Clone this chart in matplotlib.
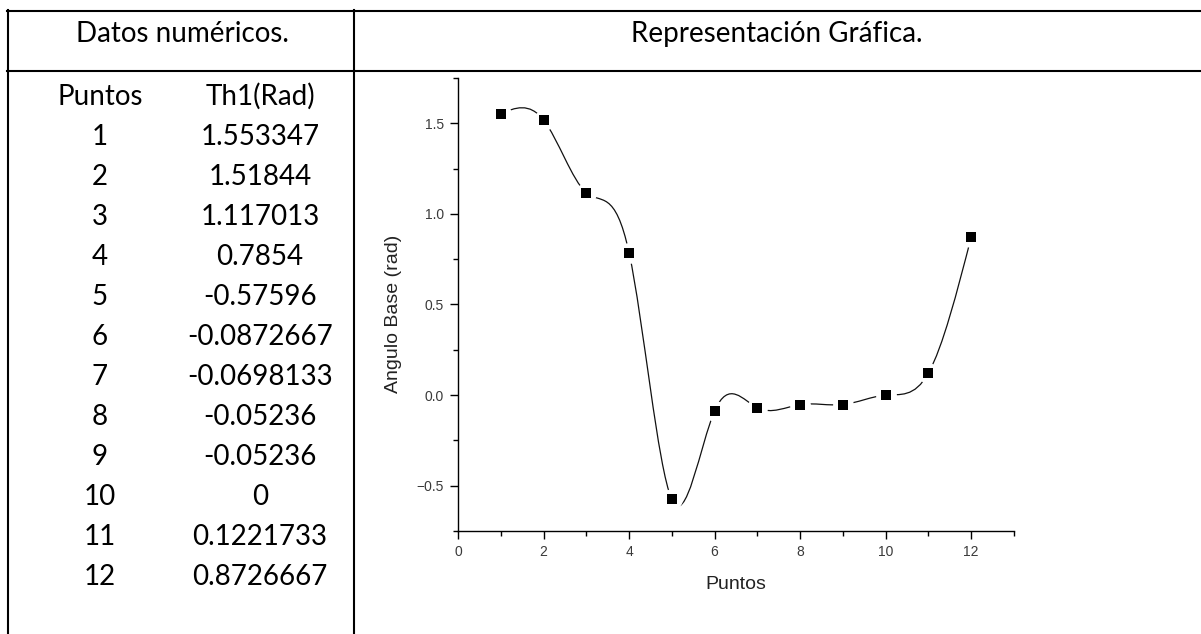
import numpy as np
import matplotlib
matplotlib.use("Agg")
from matplotlib import pyplot as plt
from matplotlib.path import Path
from matplotlib.patches import PathPatch
from matplotlib.lines import Line2D
from matplotlib.ticker import MultipleLocator

# data
puntos = [1, 2, 3, 4, 5, 6, 7, 8, 9, 10, 11, 12]
th1 = [1.553347, 1.51844, 1.117013, 0.7854, -0.57596, -0.0872667,
       -0.0698133, -0.05236, -0.05236, 0.0, 0.1221733, 0.8726667]
th1_text = ["1.553347", "1.51844", "1.117013", "0.7854", "-0.57596", "-0.0872667",
            "-0.0698133", "-0.05236", "-0.05236", "0", "0.1221733", "0.8726667"]
col_headers = ["Puntos", "Th1(Rad)"]
titles = ["Datos numéricos.", "Representación Gráfica."]

W, H = 1201, 634
fig = plt.figure(figsize=(W / 100, H / 100), dpi=100)

def fx(px):
    return px / W

def fy(py):
    return 1 - py / H

# table borders
lw = 1.5
fig.add_artist(Line2D([fx(7), 1], [fy(11), fy(11)], color="black", lw=lw))
fig.add_artist(Line2D([fx(7), 1], [fy(71), fy(71)], color="black", lw=lw))
fig.add_artist(Line2D([fx(8), fx(8)], [fy(10), 0], color="black", lw=lw))
fig.add_artist(Line2D([fx(354), fx(354)], [fy(10), 0], color="black", lw=lw))

tfont = dict(family="Lato", fontsize=20, color="black", va="baseline", ha="center")
fig.text(fx(182), fy(42), titles[0], **tfont)
fig.text(fx(777), fy(42), titles[1], **tfont)
fig.text(fx(100), fy(105), col_headers[0], **tfont)
fig.text(fx(260), fy(105), col_headers[1], **tfont)
for i in range(len(puntos)):
    base = 145 + 40 * i
    fig.text(fx(100), fy(base), str(puntos[i]), **tfont)
    fig.text(fx(260), fy(base), th1_text[i], **tfont)

# chart
ax = fig.add_axes([fx(458), fy(531), fx(1014) - fx(458), fy(78) - fy(531)])
ax.set_xlim(0, 13)
ax.set_ylim(-0.75, 1.75)
ax.spines["top"].set_visible(False)
ax.spines["right"].set_visible(False)
ax.spines["left"].set_linewidth(1.0)
ax.spines["bottom"].set_linewidth(1.0)
ax.xaxis.set_major_locator(MultipleLocator(2))
ax.xaxis.set_minor_locator(MultipleLocator(1))
ax.yaxis.set_major_locator(MultipleLocator(0.5))
ax.yaxis.set_minor_locator(MultipleLocator(0.25))
ax.tick_params(which="major", direction="out", length=6, width=1.0,
               labelsize=10, labelcolor="#3a3a3a", pad=4)
ax.tick_params(which="minor", direction="out", length=3.6, width=1.0)
for lab in ax.get_xticklabels() + ax.get_yticklabels():
    lab.set_family("Liberation Sans")

ax.set_xlabel("Puntos", family="Liberation Sans", fontsize=14, color="#222222")
ax.set_ylabel("Angulo Base (rad)", family="Liberation Sans", fontsize=14, color="#222222")
ax.xaxis.set_label_coords(0.5, -0.1)
ax.yaxis.set_label_coords(-0.1, 0.48)

# spline connection (natural cubic) drawn as bezier path
x = np.array(puntos, dtype=float)
y = np.array(th1)
n = len(x)
A = np.zeros((n, n))
r = np.zeros(n)
A[0, 0] = 1
A[-1, -1] = 1
for i in range(1, n - 1):
    A[i, i - 1] = 1
    A[i, i] = 4
    A[i, i + 1] = 1
    r[i] = 6 * (y[i + 1] - 2 * y[i] + y[i - 1])
M = np.linalg.solve(A, r)
m = np.zeros(n)
for i in range(n - 1):
    m[i] = (y[i + 1] - y[i]) - (2 * M[i] + M[i + 1]) / 6
m[-1] = (y[-1] - y[-2]) + (M[-2] + 2 * M[-1]) / 6

verts = [(x[0], y[0])]
codes = [Path.MOVETO]
for i in range(n - 1):
    verts += [(x[i] + 1 / 3, y[i] + m[i] / 3),
              (x[i + 1] - 1 / 3, y[i + 1] - m[i + 1] / 3),
              (x[i + 1], y[i + 1])]
    codes += [Path.CURVE4] * 3
ax.add_patch(PathPatch(Path(verts, codes), facecolor="none", edgecolor="#111111", lw=0.9, zorder=2))

# gaps around the symbols, then the symbols
ax.plot(puntos, th1, "o", color="white", ms=15, mew=0, zorder=3)
ax.plot(puntos, th1, "s", color="black", ms=7.2, mew=0, zorder=4)

plt.savefig("out.png", dpi=100)
